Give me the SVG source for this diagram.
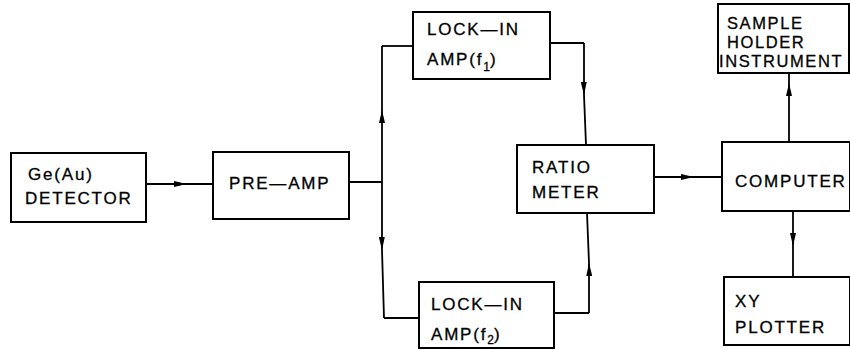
<svg xmlns="http://www.w3.org/2000/svg" width="850" height="350" viewBox="0 0 850 350">
<style>
.box{fill:#fff;stroke:#000;stroke-width:2}
.ln{fill:none;stroke:#000;stroke-width:1.8}
text{font-family:"Liberation Sans",Arial,sans-serif;font-size:17px;letter-spacing:1.8px;fill:#000;stroke:#000;stroke-width:0.3}
.sm{font-size:16.5px;letter-spacing:1.6px}
.sub{font-size:12px;letter-spacing:0}
</style>
<defs>
<marker id="arr" viewBox="0 0 13 6" refX="13" refY="3" markerWidth="13" markerHeight="6" markerUnits="userSpaceOnUse" orient="auto">
<path d="M0,0 L13,3 L0,6 Z" fill="#000"/>
</marker>
</defs>
<rect width="850" height="350" fill="#fff"/>
<g id="connectors">
<path class="ln" d="M146 184 L187 184 L213 184" marker-mid="url(#arr)"/>
<path class="ln" d="M349 182 L382 182"/>
<path class="ln" d="M382 182 L382 110 L382 46" marker-mid="url(#arr)"/>
<path class="ln" d="M382 46 L413 46"/>
<path class="ln" d="M382 182 L382 250 L384 318" marker-mid="url(#arr)"/>
<path class="ln" d="M384 318 L419 318"/>
<path class="ln" d="M550 43 L584 43"/>
<path class="ln" d="M584 43 L584 95 L586 145" marker-mid="url(#arr)"/>
<path class="ln" d="M554 313 L589 313"/>
<path class="ln" d="M589 313 L589 263 L587 213" marker-mid="url(#arr)"/>
<path class="ln" d="M654 177 L694 177 L722 177" marker-mid="url(#arr)"/>
<path class="ln" d="M789 142 L789 83 L789 73" marker-mid="url(#arr)"/>
<path class="ln" d="M793 211 L793 246 L793 277" marker-mid="url(#arr)"/>
</g>
<g id="detector">
<rect class="box" x="11" y="153" width="135" height="69"/>
<text x="28" y="180">Ge(Au)</text>
<text x="25" y="204">DETECTOR</text>
</g>
<g id="preamp">
<rect class="box" x="213" y="152" width="136" height="67"/>
<text x="229" y="189">PRE—AMP</text>
</g>
<g id="lockin1">
<rect class="box" x="413" y="12" width="137" height="67"/>
<text x="427" y="35">LOCK—IN</text>
<text x="427" y="65">AMP(f<tspan class="sub" dy="6">1</tspan><tspan dy="-6">)</tspan></text>
</g>
<g id="lockin2">
<rect class="box" x="419" y="282" width="135" height="66"/>
<text x="431" y="310">LOCK—IN</text>
<text x="431" y="340">AMP(f<tspan class="sub" dy="4">2</tspan><tspan dy="-4">)</tspan></text>
</g>
<g id="ratiometer">
<rect class="box" x="517" y="145" width="137" height="68"/>
<text x="532" y="173">RATIO</text>
<text x="532" y="198">METER</text>
</g>
<g id="sampleholder">
<rect class="box" x="718" y="4" width="131" height="69"/>
<text class="sm" x="727" y="29">SAMPLE</text>
<text class="sm" x="727" y="48">HOLDER</text>
<text class="sm" x="719" y="67">INSTRUMENT</text>
</g>
<g id="computer">
<rect class="box" x="722" y="142" width="128" height="69"/>
<text x="735" y="187">COMPUTER</text>
</g>
<g id="xyplotter">
<rect class="box" x="724" y="277" width="126" height="68"/>
<text x="735" y="307">XY</text>
<text x="735" y="333">PLOTTER</text>
</g>
</svg>
